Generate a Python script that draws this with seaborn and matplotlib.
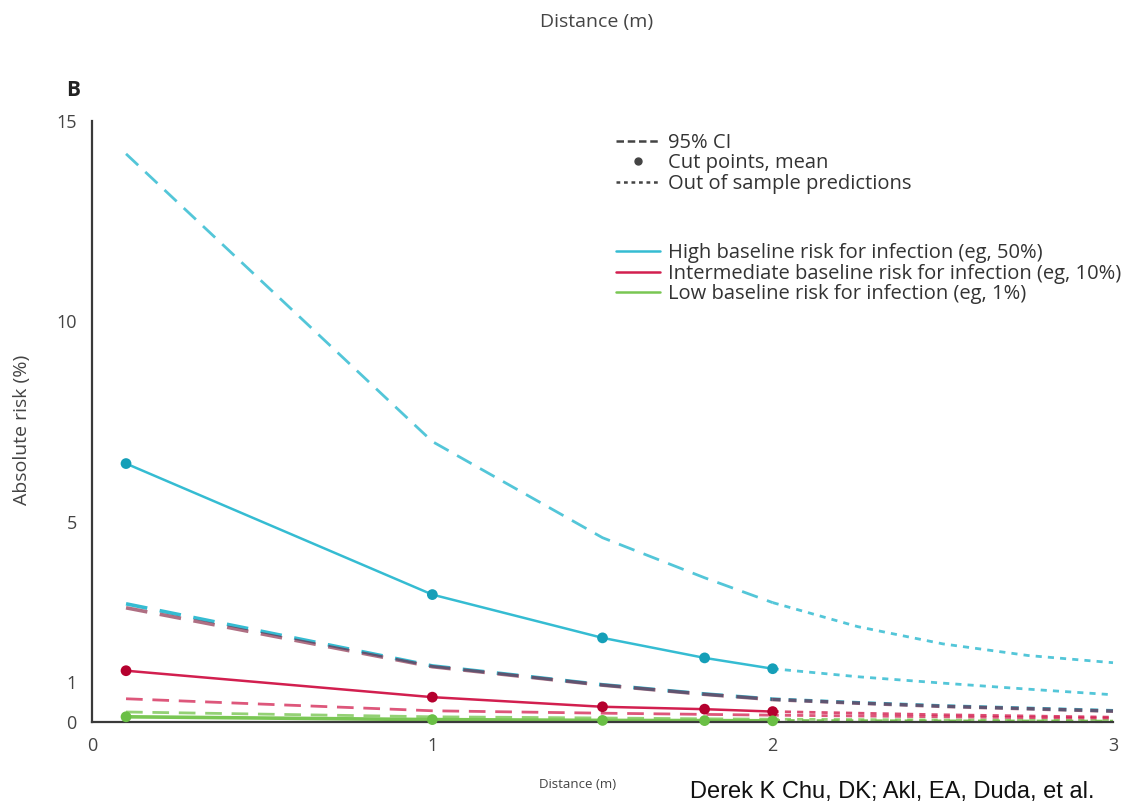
import numpy as np
import pandas as pd
import matplotlib
matplotlib.use('Agg')
import matplotlib.pyplot as plt
from matplotlib.lines import Line2D
import seaborn as sns

#%% podaci (procitani sa slike)
dist_in = [0.1, 1.0, 1.5, 1.8, 2.0]
dist_out = [2.0, 2.25, 2.5, 2.75, 3.0]

high_mean = [6.45, 3.18, 2.10, 1.60, 1.33]
high_mean_out = [1.33, 1.13, 0.97, 0.82, 0.68]
high_upper = [14.18, 7.0, 4.6, 3.6, 2.98]
high_upper_out = [2.98, 2.38, 1.95, 1.66, 1.48]
high_lower = [2.95, 1.40, 0.93, 0.70, 0.57]
high_lower_out = [0.57, 0.48, 0.40, 0.34, 0.28]

inter_mean = [1.28, 0.62, 0.38, 0.32, 0.26]
inter_mean_out = [0.26, 0.22, 0.18, 0.15, 0.12]
inter_upper = [2.85, 1.38, 0.92, 0.69, 0.56]
inter_upper_out = [0.56, 0.47, 0.39, 0.33, 0.27]
inter_lower = [0.58, 0.28, 0.22, 0.19, 0.17]
inter_lower_out = [0.17, 0.15, 0.13, 0.11, 0.10]

low_mean = [0.13, 0.06, 0.04, 0.035, 0.03]
low_mean_out = [0.03, 0.025, 0.02, 0.018, 0.015]
low_upper = [0.25, 0.13, 0.10, 0.08, 0.07]
low_upper_out = [0.07, 0.06, 0.05, 0.045, 0.04]

x_ticks = [0, 1, 2, 3]
y_ticks = [0, 1, 5, 10, 15]

legend_styles = ['95% CI', 'Cut points, mean', 'Out of sample predictions']
legend_groups = ['High baseline risk for infection (eg, 50%)',
                 'Intermediate baseline risk for infection (eg, 10%)',
                 'Low baseline risk for infection (eg, 1%)']

#%% boje i stil
c_high = '#35bcd2'
c_high_dot = '#159fb8'
c_inter = '#d21f4f'
c_inter_dot = '#b5002e'
c_low = '#79c653'
c_low_dot = '#6abf45'
axis_col = '#3a3a3a'

ci_dash = (6, 3.5)
out_dash = (2.2, 2.2)

sns.set_style('white')
plt.rcParams['font.family'] = ['Open Sans', 'DejaVu Sans']

fig = plt.figure(figsize=(11.3, 8.02), dpi=100)
ax = fig.add_axes([92 / 1130, 80 / 802, 1021 / 1130, 601 / 802])


def crta(x, y, color, dash=None, lw=2.0, alpha=1.0, z=2):
    df = pd.DataFrame({'x': x, 'y': y})
    line = sns.lineplot(data=df, x='x', y='y', ax=ax, color=color, lw=lw,
                        alpha=alpha, zorder=z, sort=False, estimator=None)
    l = line.lines[-1]
    if dash is not None:
        l.set_dashes(dash)
    l.set_clip_on(False)


# low
crta(dist_in, low_upper, c_low, ci_dash, alpha=0.8)
crta(dist_out, low_upper_out, c_low, out_dash, alpha=0.8)
crta(dist_in, low_mean, c_low, lw=2.6)
crta(dist_out, low_mean_out, c_low, out_dash, lw=2.4)

# intermediate
crta(dist_in, inter_lower, c_inter, ci_dash, alpha=0.75)
crta(dist_out, inter_lower_out, c_inter, out_dash, alpha=0.75)
crta(dist_in, inter_mean, c_inter, lw=1.8)
crta(dist_out, inter_mean_out, c_inter, out_dash, alpha=0.8)

# high
crta(dist_in, high_upper, c_high, ci_dash, alpha=0.85)
crta(dist_out, high_upper_out, c_high, out_dash, alpha=0.85)
crta(dist_in, high_lower, c_high, ci_dash, lw=2.6)
crta(dist_out, high_lower_out, c_high, out_dash, lw=2.6)
# gornja granica intermediate preklapa donju granicu high -> tamno siva
crta(dist_in, inter_upper, '#7a1030', ci_dash, lw=2.6, alpha=0.6, z=3)
crta(dist_out, inter_upper_out, '#7a1030', out_dash, lw=2.6, alpha=0.6, z=3)
crta(dist_in, high_mean, c_high, lw=1.8)
crta(dist_out, high_mean_out, c_high, out_dash, alpha=0.85)

# tacke (cut points)
for ys, c in [(high_mean, c_high_dot), (inter_mean, c_inter_dot), (low_mean, c_low_dot)]:
    sns.scatterplot(x=dist_in, y=ys, ax=ax, color=c, s=60, edgecolor='none',
                    zorder=5, clip_on=False)

#%% ose
ax.set_xlim(0, 3)
ax.set_ylim(0, 15)
ax.set_xticks(x_ticks)
ax.set_yticks(y_ticks)
sns.despine(ax=ax)
for s in ['left', 'bottom']:
    ax.spines[s].set_color(axis_col)
    ax.spines[s].set_linewidth(1.6)
ax.tick_params(axis='both', direction='out', length=7, width=1.4, color=axis_col,
               labelsize=13, labelcolor='#444444', pad=4)
ax.set_xlabel('')
ax.set_ylabel('')

#%% legenda
h1 = [Line2D([], [], color='#444444', lw=1.8, dashes=(3, 1.5)),
      Line2D([], [], color='#444444', marker='o', ls='none', markersize=5),
      Line2D([], [], color='#444444', lw=1.8, dashes=(1.5, 1.5))]
leg1 = ax.legend(h1, legend_styles, loc='upper left', bbox_to_anchor=(0.497, 1.007),
                 frameon=False, fontsize=14.5, handlelength=2.2, handletextpad=0.4,
                 labelspacing=0.02, labelcolor='#333333', borderpad=0.3)
ax.add_artist(leg1)
h2 = [Line2D([], [], color=c_high, lw=1.8),
      Line2D([], [], color=c_inter, lw=1.8),
      Line2D([], [], color=c_low, lw=1.8)]
ax.legend(h2, legend_groups, loc='upper left', bbox_to_anchor=(0.497, 0.823),
          frameon=False, fontsize=14.5, handlelength=2.2, handletextpad=0.4,
          labelspacing=0.02, labelcolor='#333333', borderpad=0.3)

#%% tekstovi
fig.text(22 / 1130, 1 - 430 / 802, 'Absolute risk (%)', rotation=90, ha='center',
         va='center', fontsize=14, color='#444444')
fig.text(597 / 1130, 1 - 22 / 802, 'Distance (m)', ha='center', va='center',
         fontsize=14, color='#444444')
fig.text(66 / 1130, 1 - 90 / 802, 'B', ha='left', va='center', fontsize=15,
         fontweight='bold', color='#222222')
fig.text(578 / 1130, 1 - 785 / 802, 'Distance (m)', ha='center', va='center',
         fontsize=9.5, color='#444444')
fig.text(690 / 1130, 1 - 798 / 802, 'Derek K Chu, DK; Akl, EA, Duda, et al.',
         ha='left', va='baseline', fontsize=17, color='#111111',
         family=['Liberation Sans', 'DejaVu Sans'])

fig.savefig('out.png', dpi=100)
